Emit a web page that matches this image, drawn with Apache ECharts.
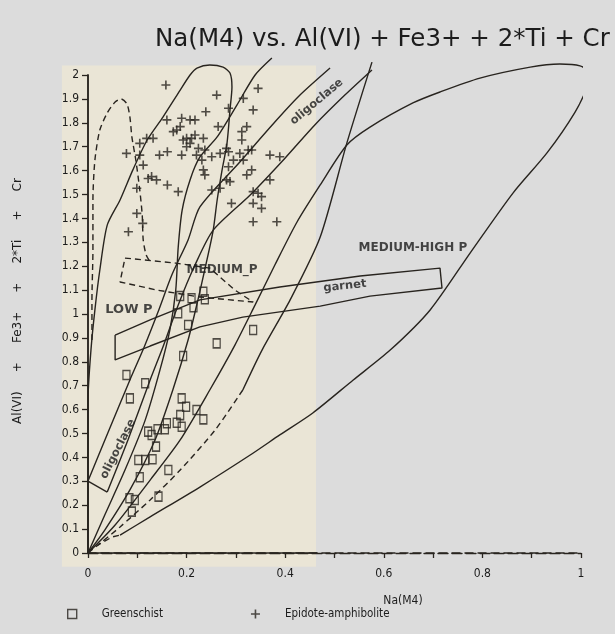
<!DOCTYPE html>
<html><head><meta charset="utf-8">
<script src="https://cdn.jsdelivr.net/npm/echarts@6/dist/echarts.min.js"></script>
<style>html,body{margin:0;padding:0;background:#dcdcdc;}#c{width:615px;height:634px;}</style>
</head><body><div id="c"></div>
<script>
// ---------------- data ----------------
const greenschist = [
 [0.085,0.647],[0.116,0.710],[0.190,0.647],[0.199,0.612],[0.187,0.577],[0.220,0.598],[0.234,0.559],
 [0.190,0.528],[0.180,0.545],[0.160,0.543],[0.156,0.518],[0.141,0.518],[0.122,0.508],[0.129,0.494],
 [0.138,0.445],[0.102,0.389],[0.116,0.389],[0.131,0.392],[0.105,0.317],[0.163,0.347],[0.084,0.229],
 [0.095,0.222],[0.089,0.173],[0.143,0.236],[0.187,1.075],[0.210,1.066],[0.237,1.062],[0.234,1.093],
 [0.214,1.028],[0.183,1.003],[0.203,0.954],[0.261,0.877],[0.193,0.824],[0.078,0.745],[0.335,0.933]
];
const epidoteAmphibolite = [
 [0.158,1.958],[0.261,1.916],[0.239,1.846],[0.264,1.784],[0.160,1.812],[0.190,1.819],[0.180,1.770],
 [0.173,1.763],[0.207,1.812],[0.217,1.812],[0.187,1.784],[0.193,1.728],[0.200,1.735],[0.210,1.735],
 [0.217,1.749],[0.234,1.735],[0.207,1.714],[0.200,1.700],[0.224,1.693],[0.237,1.686],[0.220,1.665],
 [0.231,1.644],[0.251,1.658],[0.268,1.672],[0.281,1.693],[0.190,1.665],[0.119,1.735],[0.105,1.714],
 [0.132,1.735],[0.145,1.665],[0.161,1.679],[0.112,1.623],[0.129,1.575],[0.139,1.561],[0.161,1.540],
 [0.183,1.512],[0.234,1.603],[0.237,1.582],[0.251,1.519],[0.268,1.526],[0.281,1.561],[0.099,1.421],
 [0.291,1.463],[0.315,1.902],[0.335,1.854],[0.345,1.944],[0.312,1.763],[0.322,1.784],[0.312,1.728],
 [0.308,1.672],[0.325,1.686],[0.285,1.679],[0.295,1.644],[0.285,1.616],[0.288,1.554],[0.332,1.603],
 [0.322,1.582],[0.369,1.665],[0.389,1.658],[0.369,1.561],[0.335,1.512],[0.345,1.505],[0.352,1.491],
 [0.335,1.463],[0.352,1.442],[0.335,1.386],[0.383,1.386],[0.285,1.861],[0.122,1.567],[0.099,1.526],
 [0.111,1.379],[0.082,1.344],[0.105,1.665],[0.078,1.672],[0.315,1.644],[0.332,1.686]
];
// field boundaries (solid)
const lowPField = [
 [0,0],[0,0.640],[0.006,0.849],[0.014,1.017],[0.024,1.184],[0.039,1.372],[0.065,1.477],[0.091,1.603],
 [0.120,1.728],[0.152,1.824],[0.187,1.937],[0.207,2.000],[0.221,2.029],[0.247,2.042],[0.274,2.033],
 [0.288,2.008],[0.292,1.950],[0.288,1.854],[0.282,1.715],[0.272,1.603],[0.262,1.477],[0.254,1.351],
 [0.239,1.205],[0.223,1.059],[0.203,0.891],[0.172,0.682],[0.136,0.473],[0.085,0.264],[0.034,0.096],[0,0]
];
const mediumPLine = [
 [0.373,2.071],[0.339,2.000],[0.302,1.874],[0.262,1.741],[0.227,1.657],[0.207,1.561],[0.191,1.435],
 [0.183,1.280],[0.178,1.100],[0.166,0.933],[0.146,0.766],[0.116,0.556],[0.075,0.347],[0.034,0.159],[0,0]
];
const mediumHighPField = [
 [0.065,0.075],[0.126,0.151],[0.227,0.276],[0.329,0.410],[0.389,0.494],[0.456,0.586],[0.538,0.724],
 [0.613,0.849],[0.694,1.017],[0.775,1.255],[0.862,1.506],[0.931,1.674],[0.988,1.845],[1.014,1.958],
 [1.018,2.008],[0.998,2.038],[0.957,2.046],[0.897,2.033],[0.795,1.987],[0.714,1.929],[0.659,1.883],
 [0.572,1.782],[0.525,1.707],[0.471,1.540],[0.424,1.385],[0.379,1.205],[0.339,1.038],[0.298,0.870],
 [0.247,0.682],[0.187,0.473],[0.126,0.305],[0.055,0.117],[0,0]
];
const mediumHighPTail = [[0,0],[0.020,0.033],[0.049,0.067],[0.065,0.075]];
const steepLine = [[0.576,2.054],[0.525,1.715],[0.471,1.322],[0.410,1.059],[0.353,0.849],[0.314,0.682]];
const steepLineTail = [[0.314,0.682],[0.258,0.515],[0.187,0.347],[0.126,0.222],[0.065,0.109],[0.020,0.033]];
// oligoclase isograd band (two edges + closing end)
const oligoclaseEdgeA = [
 [0,0.301],[0.041,0.506],[0.085,0.724],[0.114,0.862],[0.142,1.008],[0.170,1.163],[0.203,1.310],
 [0.227,1.448],[0.308,1.636],[0.379,1.803],[0.430,1.916],[0.491,2.029]
];
const oligoclaseEdgeB = [
 [0.039,0.255],[0.081,0.473],[0.126,0.724],[0.152,0.862],[0.183,1.038],[0.217,1.205],[0.254,1.351],
 [0.329,1.498],[0.400,1.653],[0.460,1.791],[0.521,1.916],[0.576,2.021]
];
const oligoclaseEnd = [[0,0.301],[0.039,0.255]];
// garnet isograd band (closed)
const garnetBand = [
 [0.055,0.912],[0.126,0.975],[0.227,1.059],[0.389,1.113],[0.552,1.159],[0.714,1.192],[0.718,1.109],
 [0.572,1.075],[0.471,1.033],[0.314,0.987],[0.227,0.946],[0.126,0.866],[0.055,0.808],[0.055,0.912]
];
// dashed outlines
const dashedField = [
 [0.008,0.891],[0.008,1.059],[0.010,1.268],[0.010,1.477],[0.014,1.644],[0.024,1.770],[0.039,1.841],
 [0.055,1.887],[0.067,1.900],[0.079,1.879],[0.085,1.824],[0.089,1.741],[0.097,1.644],[0.105,1.519],
 [0.110,1.414],[0.112,1.310],[0.118,1.247],[0.126,1.218]
];
const dashedBox = [
 [0.075,1.234],[0.178,1.213],[0.247,1.192],[0.298,1.100],[0.335,1.050],[0.227,1.071],[0.140,1.100],
 [0.065,1.134],[0.075,1.234]
];
// field / isograd labels and their anchor points (data units)
const fieldLabels = ['LOW P','MEDIUM_P','MEDIUM-HIGH P','garnet','oligoclase','oligoclase'];
const fieldLabelAnchors = [[0.083,1.017],[0.272,1.184],[0.659,1.276],[0.521,1.117],[0.061,0.435],[0.464,1.888]];
const fieldLabelAngles = [0,0,0,6,63,40];
const xTickLabels = ['0','0.2','0.4','0.6','0.8','1'];
const solidAxisSpan = [0,0.465];
const paperPatch = {x:[-0.053,0.4625], y:[-0.058,2.04]};

// ---------------- chart ----------------
const INK = '#28241f';
const TXT = '#1c1c1c';
const FONT = "'DejaVu Sans', 'Liberation Sans', sans-serif";
const NARROW = "'Liberation Sans Narrow', 'DejaVu Sans Condensed', 'Liberation Sans', sans-serif";
const PLUS = 'path://M4.1,0h1.8v4.1h4.1v1.8h-4.1v4.1h-1.8v-4.1h-4.1v-1.8h4.1z';

function curve(data, dashed, smooth){
  return {type:'line', data:data, showSymbol:false, symbol:'none', smooth:smooth===undefined?0.25:smooth,
    clip:false, silent:true, z:3,
    lineStyle:{color:INK, width:1.4, type:dashed?[6,4]:'solid'}};
}

const chart = echarts.init(document.getElementById('c'), null, {renderer:'canvas'});
const option = {
  backgroundColor:'#dcdcdc',
  animation:false,
  title:{text:'Na(M4) vs. Al(VI) + Fe3+ + 2*Ti + Cr', left:150, top:22,
    textStyle:{fontFamily:FONT, fontWeight:'normal', fontSize:24.5, color:TXT}},
  grid:{left:88, right:34, top:75, bottom:81},
  legend:{left:62, top:603, itemGap:88, itemWidth:9, itemHeight:9,
    textStyle:{fontFamily:NARROW, fontSize:11.5, color:TXT, padding:[0,0,0,20]},
    data:[
      {name:'Greenschist', icon:'rect', itemStyle:{color:'rgba(0,0,0,0)', borderColor:INK, borderWidth:1.4}},
      {name:'Epidote-amphibolite', icon:PLUS, itemStyle:{color:INK}}
    ]},
  xAxis:[
    {type:'value', min:0, max:1, interval:0.1, position:'bottom',
     name:'Na(M4)', nameLocation:'middle', nameGap:42,
     nameTextStyle:{fontFamily:NARROW, fontSize:12, color:TXT, padding:[0,0,0,137]},
     axisLine:{lineStyle:{color:INK, width:1.5, type:[8,5]}},
     axisTick:{length:5, lineStyle:{color:INK, width:1.3}},
     axisLabel:{margin:15, fontFamily:NARROW, fontSize:12, color:TXT,
       formatter:function(v){const i=Math.round(v*10); return i%2===0 ? xTickLabels[i/2] : '';}},
     splitLine:{show:false}},
    {type:'value', min:0, max:1, position:'top',
     axisLine:{lineStyle:{color:INK, width:1.4, type:[10,4]}},
     axisTick:{show:false}, axisLabel:{show:false}, splitLine:{show:false}}
  ],
  yAxis:[
    {type:'value', min:0, max:2, interval:0.1, position:'left',
     name:'Al(VI)     +     Fe3+     +     2*Ti     +     Cr', nameLocation:'middle', nameGap:64, nameRotate:90,
     nameTextStyle:{fontFamily:"'DejaVu Sans', sans-serif", fontSize:12, color:TXT, padding:[0,0,0,26]},
     axisLine:{lineStyle:{color:INK, width:1.5}},
     axisTick:{length:6, lineStyle:{color:INK, width:1.3}},
     axisLabel:{margin:9, fontFamily:NARROW, fontSize:12, color:TXT},
     splitLine:{show:false}},
    {type:'value', min:0, max:2, position:'right',
     axisLine:{show:true, lineStyle:{color:INK, width:1.5}},
     axisTick:{show:false}, axisLabel:{show:false}, splitLine:{show:false}}
  ],
  series:[
    {type:'line', data:[[solidAxisSpan[0],0],[solidAxisSpan[1],0]], showSymbol:false, symbol:'none',
     silent:true, clip:false, z:4, lineStyle:{color:INK, width:1.5}},
    curve(lowPField), curve(mediumPLine), curve(mediumHighPField), curve(mediumHighPTail,true,0),
    curve(steepLine), curve(steepLineTail,true), curve(oligoclaseEdgeA), curve(oligoclaseEdgeB),
    curve(oligoclaseEnd,false,0), curve(garnetBand,false,0), curve(dashedField,true), curve(dashedBox,true,0),
    {name:'Greenschist', type:'scatter', data:greenschist, symbol:'rect', symbolSize:[7,9], z:5,
     itemStyle:{color:'rgba(0,0,0,0)', borderColor:INK, borderWidth:1.4}},
    {name:'Epidote-amphibolite', type:'scatter', data:epidoteAmphibolite, symbol:PLUS, symbolSize:9, z:5,
     itemStyle:{color:INK}},
    {type:'scatter', symbolSize:0, silent:true, z:6,
     data:fieldLabels.map(function(t,i){return {value:fieldLabelAnchors[i],
       label:{show:true, position:'inside', formatter:t, rotate:fieldLabelAngles[i],
         fontFamily:"'DejaVu Sans', sans-serif", fontWeight:'bold',
         fontSize:(i===0?13:(i===1||i===2?12:11.5)), color:TXT}};})}
  ]
};
chart.setOption(option);
const p0 = chart.convertToPixel({gridIndex:0}, [paperPatch.x[0], paperPatch.y[1]]);
const p1 = chart.convertToPixel({gridIndex:0}, [paperPatch.x[1], paperPatch.y[0]]);
chart.setOption({graphic:{elements:[{type:'rect', z:-10, silent:true,
  shape:{x:p0[0], y:p0[1], width:p1[0]-p0[0], height:p1[1]-p0[1]}, style:{fill:'#eae5d6'}}]}});
</script></body></html>
